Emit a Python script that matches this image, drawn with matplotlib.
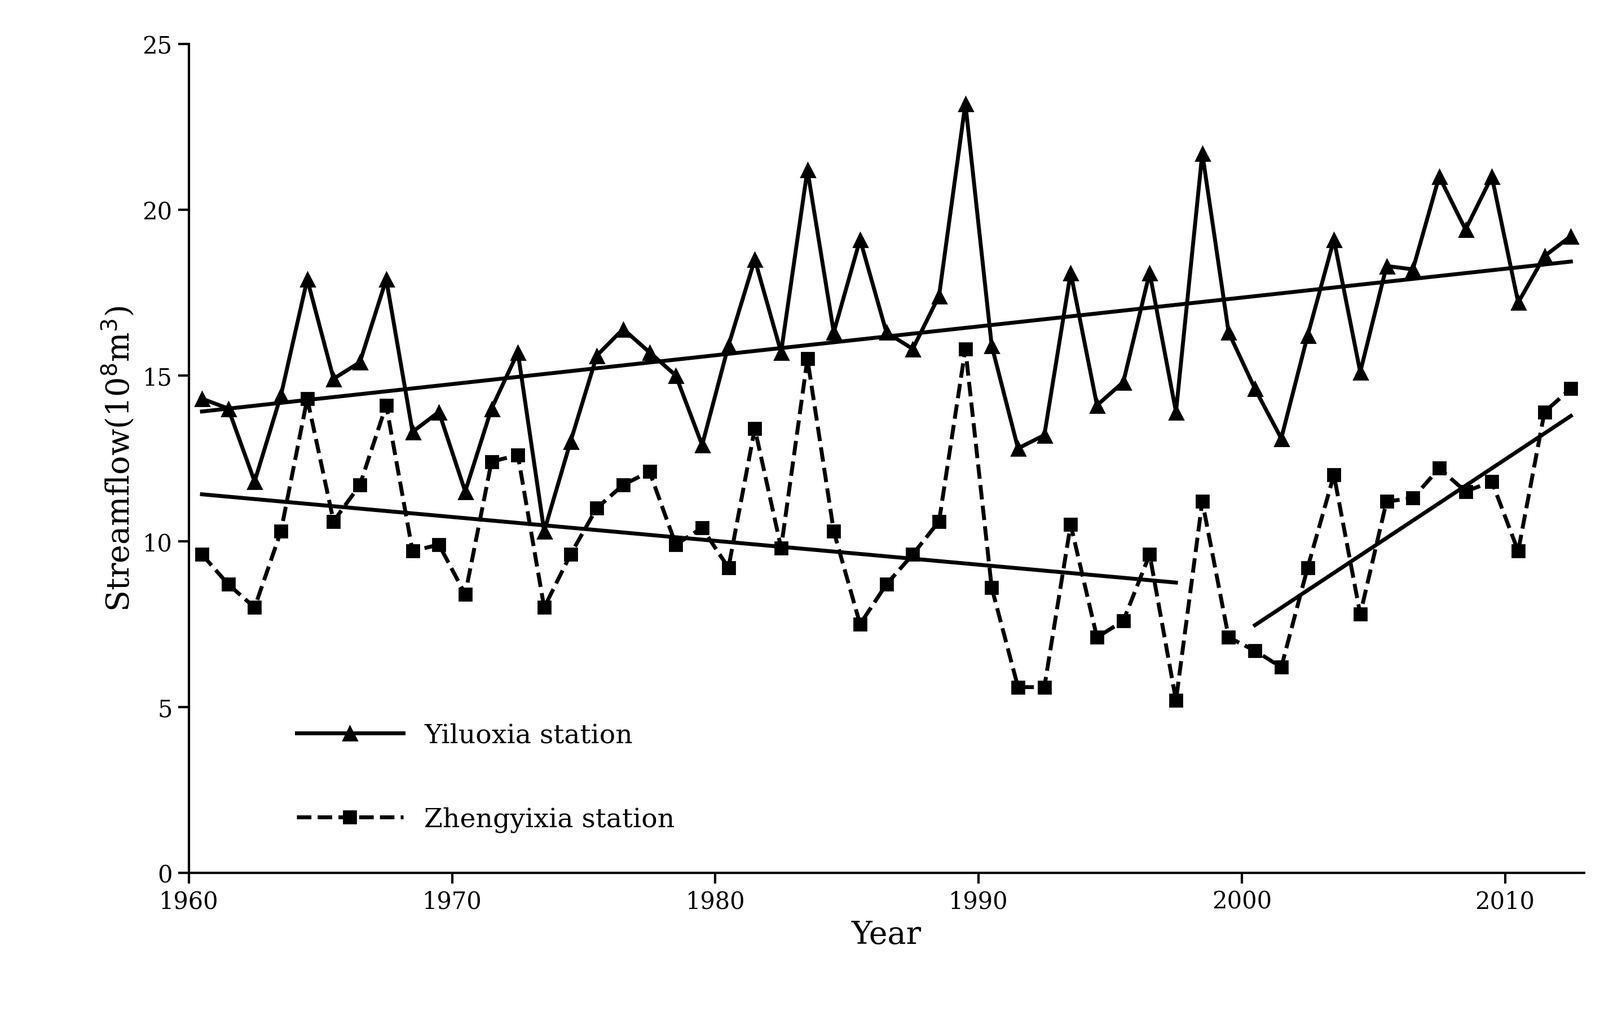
import numpy as np
import matplotlib.pyplot as plt

plt.rcParams['font.family'] = ['DejaVu Serif']

years = np.arange(1960, 2013)
yiluoxia = [14.3, 14.0, 11.8, 14.4, 17.9, 14.9, 15.4, 17.9, 13.3, 13.9,
            11.5, 14.0, 15.7, 10.3, 13.0, 15.6, 16.4, 15.7, 15.0, 12.9,
            15.9, 18.5, 15.7, 21.2, 16.3, 19.1, 16.3, 15.8, 17.4, 23.2,
            15.9, 12.8, 13.2, 18.1, 14.1, 14.8, 18.1, 13.9, 21.7, 16.3,
            14.6, 13.1, 16.2, 19.1, 15.1, 18.3, 18.2, 21.0, 19.4, 21.0,
            17.2, 18.6, 19.2]
zhengyixia = [9.6, 8.7, 8.0, 10.3, 14.3, 10.6, 11.7, 14.1, 9.7, 9.9,
              8.4, 12.4, 12.6, 8.0, 9.6, 11.0, 11.7, 12.1, 9.9, 10.4,
              9.2, 13.4, 9.8, 15.5, 10.3, 7.5, 8.7, 9.6, 10.6, 15.8,
              8.6, 5.6, 5.6, 10.5, 7.1, 7.6, 9.6, 5.2, 11.2, 7.1,
              6.7, 6.2, 9.2, 12.0, 7.8, 11.2, 11.3, 12.2, 11.5, 11.8,
              9.7, 13.9, 14.6]
x = years + 0.5  # points sit in the middle of each year
yl = np.array(yiluoxia)
zy = np.array(zhengyixia)

fig = plt.figure(figsize=(14.185, 9.165), dpi=200)
ax = fig.add_axes([0.118, 0.155, 0.872, 0.802])

ax.plot(x, yl, color='black', lw=2.5, marker='^', ms=9, label='Yiluoxia station')
ax.plot(x, zy, color='black', lw=2.5, ls='--', marker='s', ms=8, label='Zhengyixia station')

# linear trends
def trend(mask, data):
    k, b = np.polyfit(x[mask], data[mask], 1)
    ax.plot(x[mask], k * x[mask] + b, color='black', lw=2.5)

trend(years >= 1960, yl)
trend(years <= 1997, zy)
trend(years >= 2000, zy)

ax.set_xlim(1960, 2013)
ax.set_ylim(0, 25)
ax.set_xticks(range(1960, 2011, 10))
ax.set_yticks(range(0, 26, 5))
ax.spines['top'].set_visible(False)
ax.spines['right'].set_visible(False)
ax.spines['left'].set_linewidth(1.5)
ax.spines['bottom'].set_linewidth(1.5)
ax.tick_params(labelsize=15, direction='out', length=7, width=1.5)
ax.set_xlabel('Year', fontsize=20)
ax.set_ylabel('Streamflow(10$^{8}$m$^{3}$)', fontsize=20)
ax.legend(loc='lower left', bbox_to_anchor=(0.06, 0.02), frameon=False,
          fontsize=17, handlelength=4, labelspacing=2.2)

plt.savefig('out.png', dpi=200)
